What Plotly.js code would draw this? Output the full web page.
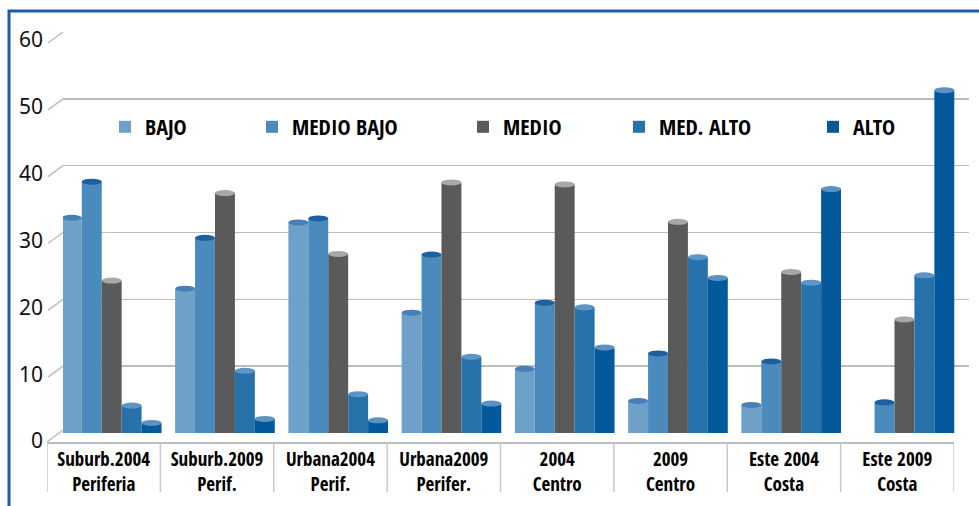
<!DOCTYPE html>
<html>
<head>
<meta charset="utf-8">
<script src="https://cdn.plot.ly/plotly-3.0.1.min.js"></script>
<style>html,body{margin:0;padding:0;background:#fff;}#chart{width:979px;height:506px;}
#chart text{font-stretch:condensed !important;}</style>
</head>
<body>
<div id="chart"></div>
<script>
// ---- data ----
const categories = ['Suburb.2004<br>Periferia','Suburb.2009<br>Perif.','Urbana2004<br>Perif.','Urbana2009<br>Perifer.','2004<br>Centro','2009<br>Centro','Este 2004<br>Costa','Este 2009<br>Costa'];
const seriesNames = ['BAJO','MEDIO BAJO','MEDIO','MED. ALTO','ALTO'];
const bajo      = [32.2, 21.6, 31.5, 18.0,  9.6,  4.8,  4.2,  0];
const medioBajo = [37.6, 29.2, 32.1, 26.7, 19.5, 11.9, 10.7,  4.6];
const medio     = [22.8, 35.9, 26.8, 37.5, 37.2, 31.6, 24.1, 17.0];
const medAlto   = [ 4.1,  9.3,  5.8, 11.4, 18.8, 26.3, 22.5, 23.6];
const alto      = [ 1.5,  2.1,  1.9,  4.4, 12.8, 23.2, 36.5, 51.3];
const yTicks = [0,10,20,30,40,50,60];

// ---- styles ----
const seriesValues = [bajo, medioBajo, medio, medAlto, alto];
const colors  = ['#6FA1C8','#4A8ABC','#5A5A5A','#2872AB','#03599C'];
const topCols = ['#4580B8','#1D5F9F','#A8A8A8','#5C95C6','#5B92C2'];
const legendX = [105, 252, 463, 619, 813];
const FONT = '"Liberation Sans Narrow", "Noto Sans Condensed", "Open Sans Condensed", "Roboto Condensed", "Noto Sans", "DejaVu Sans Condensed", sans-serif';
const TICKFONT = '"Noto Sans", "Roboto", "DejaVu Sans Condensed", sans-serif';
const W = 979, H = 506;
const bargap = 0.12;
const nS = seriesNames.length;
const bw = (1 - bargap) / nS;

const traces = seriesNames.map((name, i) => ({
  type: 'bar', name: name, x: categories, y: seriesValues[i],
  marker: {color: colors[i], line: {width: 0}},
  legend: i === 0 ? 'legend' : 'legend' + (i + 1),
  hoverinfo: 'skip'
}));
// invisible trace carrying the category label axis
traces.push({type: 'scatter', mode: 'markers', x: categories.map((c, i) => i), y: categories.map(() => 0.5),
  xaxis: 'x2', yaxis: 'y2', marker: {opacity: 0}, showlegend: false, hoverinfo: 'skip'});

const shapes = [];
// top ellipses of cylinders
seriesValues.forEach((vals, i) => {
  vals.forEach((v, j) => {
    if (v <= 0) return;
    const x0 = j - (1 - bargap) / 2 + i * bw;
    shapes.push({type: 'circle', xref: 'x', yref: 'y', x0: x0, x1: x0 + bw,
      ysizemode: 'pixel', yanchor: v, y0: -3, y1: 3,
      fillcolor: topCols[i], line: {width: 0}, layer: 'above'});
  });
});
// diagonal tick connectors on the left wall
yTicks.forEach(t => {
  shapes.push({type: 'line', xref: 'x domain', yref: 'y', xsizemode: 'pixel', xanchor: 0, x0: -15, x1: 0,
    ysizemode: 'pixel', yanchor: t, y0: -11, y1: 0, line: {color: '#BDBDBD', width: 1.5}});
});
// category separators
for (let k = 0; k <= categories.length; k++) {
  shapes.push({type: 'line', xref: 'x2', yref: 'paper', x0: k - 0.5, x1: k - 0.5,
    y0: (H - 492) / H, y1: (H - 442) / H, line: {color: '#C8C8C8', width: 1.5}});
}
// floor side edges
[-0.5, categories.length - 0.5].forEach(xa => {
  shapes.push({type: 'line', xref: 'x2', yref: 'paper', xsizemode: 'pixel', xanchor: xa, x0: 0, x1: 16,
    ysizemode: 'pixel', yanchor: (H - 442) / H, y0: 0, y1: 12, line: {color: '#BDBDBD', width: 1.5}});
});
// blue frame
shapes.push({type: 'rect', xref: 'paper', yref: 'paper', x0: 9 / W, x1: 1.2, y0: -0.2, y1: (H - 11) / H,
  line: {color: '#1B5EA6', width: 3}, fillcolor: 'rgba(0,0,0,0)'});

const layout = {
  width: W, height: H,
  margin: {l: 0, r: 0, t: 0, b: 0},
  paper_bgcolor: '#ffffff', plot_bgcolor: 'rgba(0,0,0,0)',
  barmode: 'group', bargap: bargap, bargroupgap: 0,
  font: {family: FONT, color: '#000'},
  xaxis: {type: 'category', domain: [63 / W, 969 / W], range: [-0.43, categories.length - 0.43],
    showticklabels: false, ticks: '', showgrid: false, zeroline: false, showline: false, anchor: 'y'},
  yaxis: {domain: [(H - 433) / H, (H - 32) / H], range: [0, 60], tickvals: yTicks,
    showgrid: true, gridcolor: '#BDBDBD', gridwidth: 1.5, zeroline: false, showline: false, ticks: '',
    tickfont: {family: TICKFONT, size: 21, color: '#111', weight: 'normal'}, ticklabelstandoff: 19, ticklabelshift: 8, anchor: 'x'},
  xaxis2: {domain: [47 / W, 954 / W], range: [-0.5, categories.length - 0.5], anchor: 'y2',
    tickmode: 'array', tickvals: categories.map((c, i) => i), ticktext: categories, tickangle: 0,
    tickfont: {family: FONT, size: 19, color: '#000', weight: 'bold'},
    showgrid: false, zeroline: false, showline: true, linecolor: '#BDBDBD', linewidth: 1.5, ticks: ''},
  yaxis2: {domain: [(H - 442) / H, 0.9], range: [0, 1], visible: false, anchor: 'x2'},
  shapes: shapes,
  showlegend: true
};
seriesNames.forEach((n, i) => {
  const key = i === 0 ? 'legend' : 'legend' + (i + 1);
  layout[key] = {x: legendX[i] / W, xanchor: 'left', y: (H - 127) / H, yanchor: 'middle',
    orientation: 'h', bgcolor: 'rgba(0,0,0,0)', borderwidth: 0,
    font: {family: FONT, size: 22, color: '#000', weight: 'bold'}};
});

Plotly.newPlot('chart', traces, layout, {displayModeBar: false, staticPlot: true});
</script>
</body>
</html>
